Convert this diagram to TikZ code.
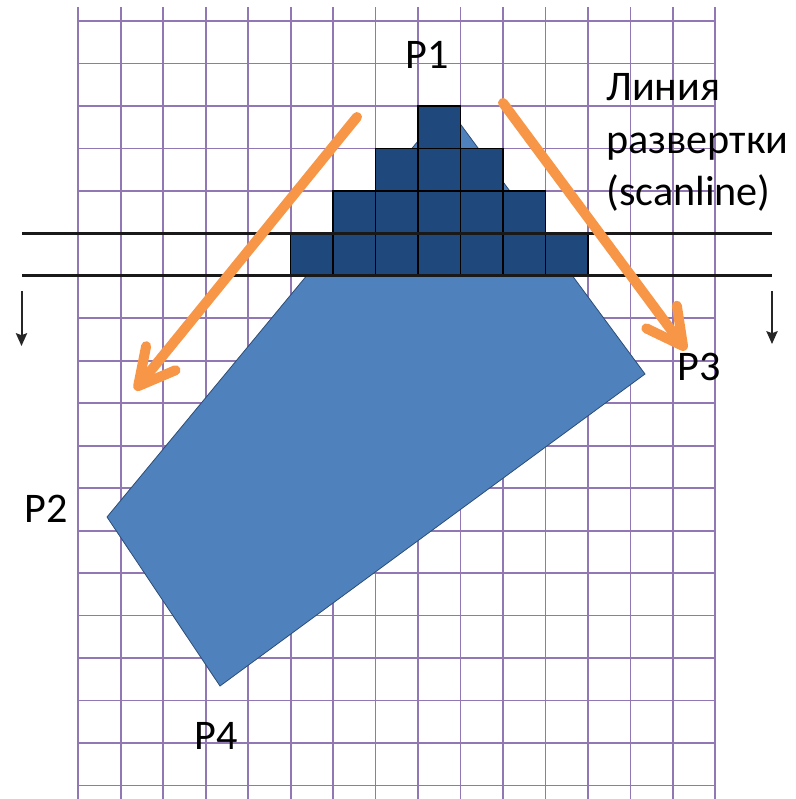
\documentclass[tikz,border=0pt]{standalone}
\usepackage{fontspec}
\setmainfont{Carlito}
\usetikzlibrary{positioning,arrows.meta,calc}
\definecolor{gridpurple}{RGB}{145,120,180}
\definecolor{cellblue}{RGB}{31,73,125}
\definecolor{polyblue}{RGB}{79,129,189}
\definecolor{polyedge}{RGB}{44,77,117}
\definecolor{sweeporange}{RGB}{247,150,70}
\tikzset{
  gridline/.style ={draw=gridpurple, line width=0.45mm},
  darkcell/.style ={draw=black, fill=cellblue, line width=0.35mm},
  lightpoly/.style={draw=polyedge, fill=polyblue, line width=0.2mm},
  scan/.style     ={draw=black!90, line width=0.8mm},
  sweep/.style    ={draw=sweeporange, line width=2.5mm, line cap=round,
                    -{Straight Barb[length=9mm, width=9.5mm, line cap=round, line join=round]}},
  dirarrow/.style ={draw=black!85, line width=0.5mm,
                    -{Stealth[length=3.2mm, width=2.8mm, inset=0.5mm]}},
  lbl/.style      ={font=\fontsize{30}{37.5}\selectfont, inner sep=0pt, anchor=base west},
}
\newcommand{\gx}{78.3}
\newcommand{\gy}{21}
\newcommand{\gs}{42.47}

\begin{document}
\begin{tikzpicture}[x=0.25mm, y=-0.25mm]
  \useasboundingbox (0,0) rectangle (796,799);

  % raster grid
  \foreach \i in {0,...,15}
    \draw[gridline] ({\gx+\gs*\i},7) -- ({\gx+\gs*\i},799);
  \foreach \j in {0,...,18}
    \draw[gridline] (\gx,{\gy+\gs*\j}) -- ({\gx+15*\gs},{\gy+\gs*\j});

  % polygon corners
  \coordinate (p1) at (447,106);
  \coordinate (p3) at (645,374);
  \coordinate (p4) at (220,686);
  \coordinate (p2) at (107,517);
  \draw[lightpoly] (p1) -- (p3) -- (p4) -- (p2) -- cycle;

  % filled pixels above the scanline
  \foreach \r in {0,...,3}
    \foreach \c in {-\r,...,\r}
      \draw[darkcell] ({\gx+\gs*(8+\c)},{\gy+\gs*(2+\r)}) rectangle ++(\gs,\gs);

  % scanline
  \coordinate (scanAl) at (22,{\gy+5*\gs});
  \coordinate (scanAr) at (772,{\gy+5*\gs});
  \coordinate (scanBl) at (22,{\gy+6*\gs});
  \coordinate (scanBr) at (772,{\gy+6*\gs});
  \draw[scan] (scanAl) -- (scanAr);
  \draw[scan] (scanBl) -- (scanBr);

  \coordinate (downLs) at (21.5,291);
  \coordinate (downLe) at (21.5,346);
  \coordinate (downRs) at (772,291);
  \coordinate (downRe) at (772,344);
  \draw[dirarrow] (downLs) -- (downLe);
  \draw[dirarrow] (downRs) -- (downRe);

  % edge walking arrows
  \coordinate (sweepLs) at (357,117);
  \coordinate (sweepLe) at (135,390);
  \coordinate (sweepRs) at (503,103);
  \coordinate (sweepRe) at (686,350);
  \draw[sweep] (sweepLs) -- (sweepLe);
  \draw[sweep] (sweepRs) -- (sweepRe);

  % labels
  \node[lbl] (lblP1) at (405,68) {P1};
  \node[lbl] (lblP2) at (24,522) {P2};
  \node[lbl] (lblP3) at (677,380) {P3};
  \node[lbl] (lblP4) at (194,749) {P4};
  \node[lbl, align=left, anchor=north west] (lblScan) at (606,73)
        {Линия\\развертки\\(scanline)};
\end{tikzpicture}
\end{document}
